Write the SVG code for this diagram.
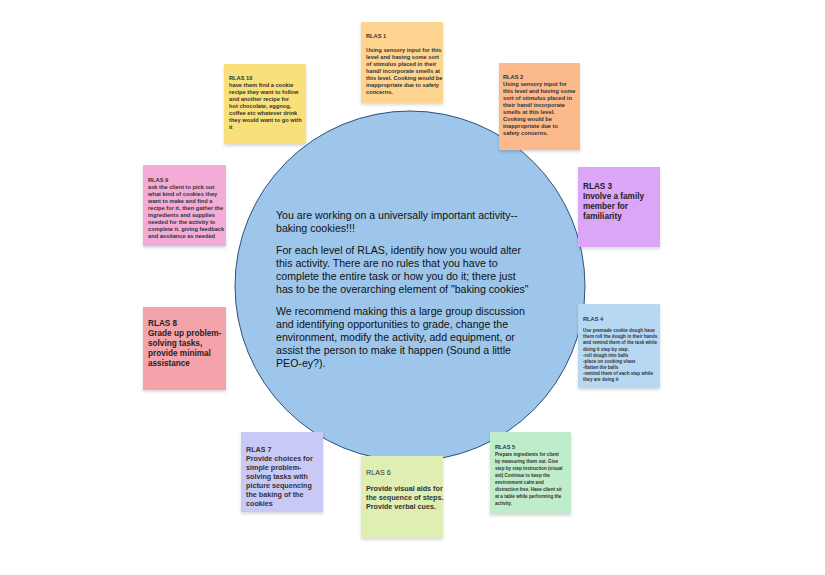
<svg xmlns="http://www.w3.org/2000/svg" width="825" height="575" viewBox="0 0 825 575">
<style>
.n{stroke:none;filter:url(#sh)}
.t{font-family:"Liberation Sans",Arial,sans-serif;font-size:5.7px;font-weight:bold;fill:#333}
.s{font-size:4.6px}
.b{font-family:"Liberation Sans",Arial,sans-serif;font-size:8.2px;font-weight:bold;fill:#222}
.m{font-family:"Liberation Sans",Arial,sans-serif;font-size:7.2px;font-weight:bold;fill:#333}
.c{font-family:"Liberation Sans",Arial,sans-serif;font-size:10.6px;fill:#111}
</style>
<defs><filter id="sh" x="-10%" y="-10%" width="130%" height="130%"><feDropShadow dx="0" dy="2" stdDeviation="1.5" flood-color="#000" flood-opacity="0.15"/></filter></defs>
<rect width="825" height="575" fill="#fff"/>
<g id="center"><circle cx="410" cy="286" r="175" fill="#9dc6ea" stroke="#2f4f7a" stroke-width="1"/>
<text class="c" x="276" y="219">You are working on a universally important activity--</text>
<text class="c" x="276" y="232">baking cookies!!!</text>
<text class="c" x="276" y="254">For each level of RLAS, identify how you would alter</text>
<text class="c" x="276" y="267">this activity. There are no rules that you have to</text>
<text class="c" x="276" y="280">complete the entire task or how you do it; there just</text>
<text class="c" x="276" y="293">has to be the overarching element of "baking cookies"</text>
<text class="c" x="276" y="315">We recommend making this a large group discussion</text>
<text class="c" x="276" y="328">and identifying opportunities to grade, change the</text>
<text class="c" x="276" y="341">environment, modify the activity, add equipment, or</text>
<text class="c" x="276" y="354">assist the person to make it happen (Sound a little</text>
<text class="c" x="276" y="367">PEO-ey?).</text></g>
<g id="rlas1"><rect class="n" x="361" y="22" width="82" height="81" fill="#fdd590"/>
<text class="t" x="366" y="38">RLAS 1</text>
<text class="t" x="366" y="52">Using sensory input for this</text><text class="t" x="366" y="59">level and having some sort</text><text class="t" x="366" y="66">of stimulus placed in their</text><text class="t" x="366" y="73">hand/ incorporate smells at</text><text class="t" x="366" y="80">this level. Cooking would be</text><text class="t" x="366" y="87">inappropriate due to safety</text><text class="t" x="366" y="94">concerns.</text></g>
<g id="rlas2"><rect class="n" x="499" y="63" width="81" height="87" fill="#fbb98c"/>
<text class="t" x="503" y="79">RLAS 2</text>
<text class="t" x="503" y="86">Using sensory input for</text><text class="t" x="503" y="93">this level and having some</text><text class="t" x="503" y="100">sort of stimulus placed in</text><text class="t" x="503" y="107">their hand/ incorporate</text><text class="t" x="503" y="114">smells at this level.</text><text class="t" x="503" y="121">Cooking would be</text><text class="t" x="503" y="128">inappropriate due to</text><text class="t" x="503" y="135">safety concerns.</text></g>
<g id="rlas10"><rect class="n" x="224" y="64" width="82" height="80" fill="#f9e07a"/>
<text class="t" x="229" y="80">RLAS 10</text>
<text class="t" x="229" y="87">have them find a cookie</text><text class="t" x="229" y="94">recipe they want to follow</text><text class="t" x="229" y="101">and another recipe for</text><text class="t" x="229" y="108">hot chocolate, eggnog,</text><text class="t" x="229" y="115">coffee etc whatever drink</text><text class="t" x="229" y="122">they would want to go with</text><text class="t" x="229" y="129">it</text></g>
<g id="rlas3"><rect class="n" x="578" y="167" width="82" height="80" fill="#dba6f5"/>
<text class="b" x="583" y="189">RLAS 3</text><text class="b" x="583" y="199">Involve a family</text><text class="b" x="583" y="209">member for</text><text class="b" x="583" y="219">familiarity</text></g>
<g id="rlas9"><rect class="n" x="143" y="165" width="83" height="81" fill="#f2acd6"/>
<text class="t" x="148" y="182">RLAS 9</text>
<text class="t" x="148" y="189">ask the client to pick out</text><text class="t" x="148" y="196">what kind of cookies they</text><text class="t" x="148" y="203">want to make and find a</text><text class="t" x="148" y="210">recipe for it, then gather the</text><text class="t" x="148" y="217">ingredients and supplies</text><text class="t" x="148" y="224">needed for the activity to</text><text class="t" x="148" y="231">complete it. giving feedback</text><text class="t" x="148" y="238">and assitance as needed</text></g>
<g id="rlas4"><rect class="n" x="578" y="304" width="82" height="84" fill="#b7d8f3"/>
<text class="t" x="583" y="321">RLAS 4</text>
<text class="t s" x="583" y="332">Use premade cookie dough have</text><text class="t s" x="583" y="338">them roll the dough in their hands</text><text class="t s" x="583" y="344">and remind them of the task while</text><text class="t s" x="583" y="351">doing it step by step.</text><text class="t s" x="583" y="357">-roll dough into balls</text><text class="t s" x="583" y="363">-place on cooking sheet</text><text class="t s" x="583" y="369">-flatten the balls</text><text class="t s" x="583" y="375">-remind them of each step while</text><text class="t s" x="583" y="381">they are doing it</text></g>
<g id="rlas8"><rect class="n" x="143" y="307" width="83" height="83" fill="#f4a3ab"/>
<text class="b" x="148" y="326">RLAS 8</text><text class="b" x="148" y="336"> Grade up problem-</text><text class="b" x="148" y="346">solving tasks,</text><text class="b" x="148" y="356">provide minimal</text><text class="b" x="148" y="366">assistance</text></g>
<g id="rlas7"><rect class="n" x="241" y="432" width="82" height="80" fill="#c8c9f6"/>
<text class="m" x="246" y="452">RLAS 7</text><text class="m" x="246" y="461">Provide choices for</text><text class="m" x="246" y="470">simple problem-</text><text class="m" x="246" y="479">solving tasks with</text><text class="m" x="246" y="488">picture sequencing</text><text class="m" x="246" y="497">the baking of the</text><text class="m" x="246" y="506">cookies</text></g>
<g id="rlas6"><rect class="n" x="361" y="456" width="82" height="82" fill="#dfeeb3"/>
<text class="m" x="366" y="475" style="font-weight:normal">RLAS 6</text><text class="m" x="366" y="491">Provide visual aids for</text><text class="m" x="366" y="500">the sequence of steps.</text><text class="m" x="366" y="509">Provide verbal cues.</text></g>
<g id="rlas5"><rect class="n" x="490" y="432" width="81" height="82" fill="#bfecca"/>
<text class="t" x="495" y="449">RLAS 5</text>
<text class="t s" x="495" y="456">Prepare ingredients for client</text><text class="t s" x="495" y="463">by measuring them out. Give</text><text class="t s" x="495" y="470">step by step instruction (visual</text><text class="t s" x="495" y="477">aid) Continue to keep the</text><text class="t s" x="495" y="484">environment calm and</text><text class="t s" x="495" y="491">distraction free. Have client sit</text><text class="t s" x="495" y="498">at a table while performing the</text><text class="t s" x="495" y="505">activity.</text></g>
<g id="connectors"/>
</svg>
